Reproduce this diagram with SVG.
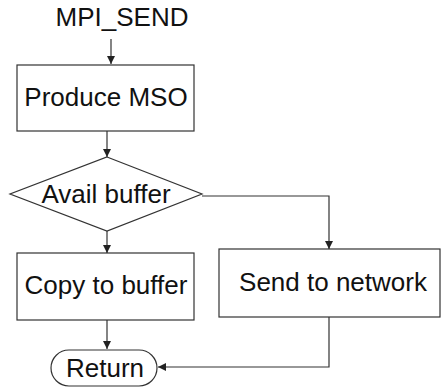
<svg xmlns="http://www.w3.org/2000/svg" width="441" height="388" viewBox="0 0 441 388">
<style>
.n{fill:#fff;stroke:#333;stroke-width:1.2}
.t{font-family:"Liberation Sans",Arial,sans-serif;font-size:26px;fill:#111;text-anchor:middle}
.c{fill:none;stroke:#333;stroke-width:1.2}
</style>
<defs>
<marker id="ah" markerWidth="8" markerHeight="8" refX="8" refY="4" orient="auto" markerUnits="userSpaceOnUse">
<path d="M0,0 L8,4 L0,8 Z" fill="#222"/>
</marker>
</defs>
<rect width="441" height="388" fill="#fff"/>
<g id="start"><text class="t" x="122" y="26">MPI_SEND</text></g>
<g id="produce"><rect class="n" x="17" y="65" width="177" height="66"/><text class="t" x="106" y="106">Produce MSO</text></g>
<g id="avail"><polygon class="n" points="107,157 202,194 107,231 10,194"/><text class="t" x="106" y="203">Avail buffer</text></g>
<g id="copy"><rect class="n" x="17" y="253" width="177" height="67"/><text class="t" x="106" y="294">Copy to buffer</text></g>
<g id="send"><rect class="n" x="219" y="249" width="221" height="68"/><text class="t" x="333" y="291">Send to network</text></g>
<g id="ret"><rect class="n" x="51" y="350" width="106" height="36" rx="18" ry="18"/><text class="t" x="105" y="377">Return</text></g>
<g id="connectors">
<path class="c" d="M111,39 V64" marker-end="url(#ah)"/>
<path class="c" d="M107,131 V157" marker-end="url(#ah)"/>
<path class="c" d="M107,231 V253" marker-end="url(#ah)"/>
<path class="c" d="M202,196 H329 V249" marker-end="url(#ah)"/>
<path class="c" d="M107,320 V349" marker-end="url(#ah)"/>
<path class="c" d="M329,317 V367 H158" marker-end="url(#ah)"/>
</g>
</svg>
